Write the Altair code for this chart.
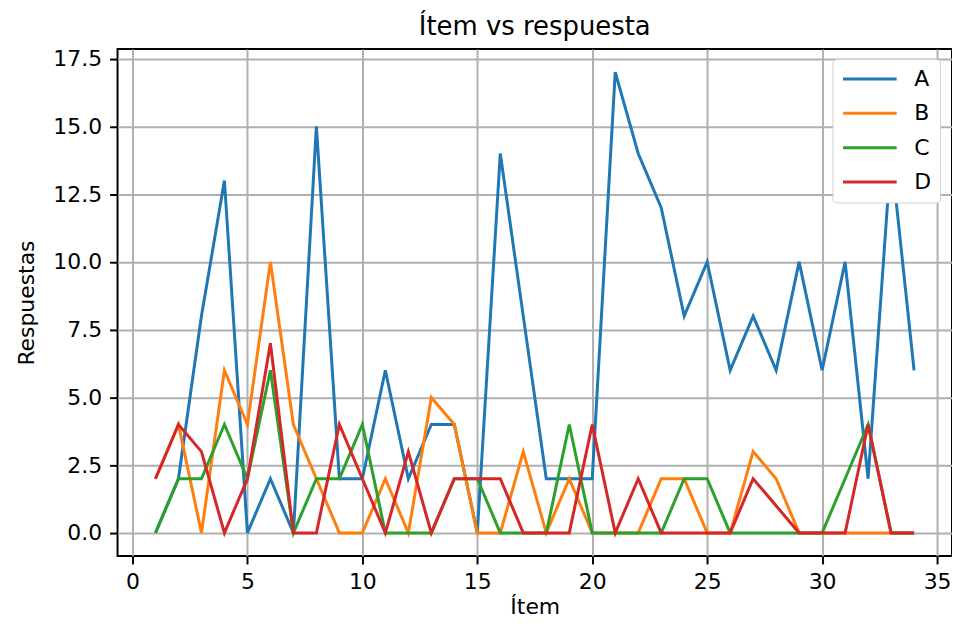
import altair as alt
import pandas as pd

items = list(range(1, 35))
serie_a = [0, 2, 8, 13, 0, 2, 0, 15, 2, 2, 6, 2, 4, 4, 0, 14, 8, 2, 2, 2,
           17, 14, 12, 8, 10, 6, 8, 6, 10, 6, 10, 2, 14, 6]
serie_b = [2, 4, 0, 6, 4, 10, 4, 2, 0, 0, 2, 0, 5, 4, 0, 0, 3, 0, 2, 0,
           0, 0, 2, 2, 0, 0, 3, 2, 0, 0, 0, 0, 0, 0]
serie_c = [0, 2, 2, 4, 2, 6, 0, 2, 2, 4, 0, 0, 0, 2, 2, 0, 0, 0, 4, 0,
           0, 0, 0, 2, 2, 0, 0, 0, 0, 0, 2, 4, 0, 0]
serie_d = [2, 4, 3, 0, 2, 7, 0, 0, 4, 2, 0, 3, 0, 2, 2, 2, 0, 0, 0, 4,
           0, 2, 0, 0, 0, 0, 2, 1, 0, 0, 0, 4, 0, 0]
series = ["A", "B", "C", "D"]
colors = ["#1f77b4", "#ff7f0e", "#2ca02c", "#d62728"]
x_ticks = [0, 5, 10, 15, 20, 25, 30, 35]
y_ticks = [0, 2.5, 5, 7.5, 10, 12.5, 15, 17.5]

rows = []
for name, vals in zip(series, [serie_a, serie_b, serie_c, serie_d]):
    for i, v in zip(items, vals):
        rows.append({"Ítem": i, "Respuestas": v, "serie": name})
df = pd.DataFrame(rows)

font = "DejaVu Sans"

chart = alt.Chart(df).mark_line(strokeWidth=3).encode(
    x=alt.X("Ítem:Q", scale=alt.Scale(domain=[-0.65, 35.65], nice=False, zero=False),
            axis=alt.Axis(values=x_ticks, format="d", title="Ítem")),
    y=alt.Y("Respuestas:Q", scale=alt.Scale(domain=[-0.85, 17.85], nice=False, zero=False),
            axis=alt.Axis(values=y_ticks, format=".1f", title="Respuestas")),
    color=alt.Color("serie:N", scale=alt.Scale(domain=series, range=colors),
                    legend=alt.Legend(title=None, orient="none", legendX=718, legendY=10,
                                      symbolType="stroke", symbolSize=2900,
                                      symbolStrokeWidth=3, labelFontSize=22,
                                      labelFont=font, labelColor="black",
                                      clipHeight=22, rowPadding=12.5, labelOffset=16,
                                      padding=9, fillColor="white",
                                      strokeColor="#d0d0d0", cornerRadius=4)),
    order=alt.Order("Ítem:Q"),
).properties(
    width=838, height=509,
    title=alt.TitleParams("Ítem vs respuesta", fontSize=26, font=font,
                          fontWeight="normal", offset=8, color="black"),
    autosize=alt.AutoSizeParams(type="none"),
    padding={"left": 110, "top": 40, "right": 0, "bottom": 62},
).configure_view(
    stroke="black", strokeWidth=2
).configure_axis(
    labelFont=font, titleFont=font, labelFontSize=22, titleFontSize=22,
    titleFontWeight="normal", labelColor="black", titleColor="black",
    grid=True, gridColor="#b0b0b0", gridWidth=2,
    tickColor="black", tickSize=8, tickWidth=2, domain=False,
    labelPadding=8
).configure_axisY(
    titlePadding=14
).configure_axisX(
    titlePadding=4
)

chart.save("out.html", embed_options={"renderer": "svg", "actions": False})
